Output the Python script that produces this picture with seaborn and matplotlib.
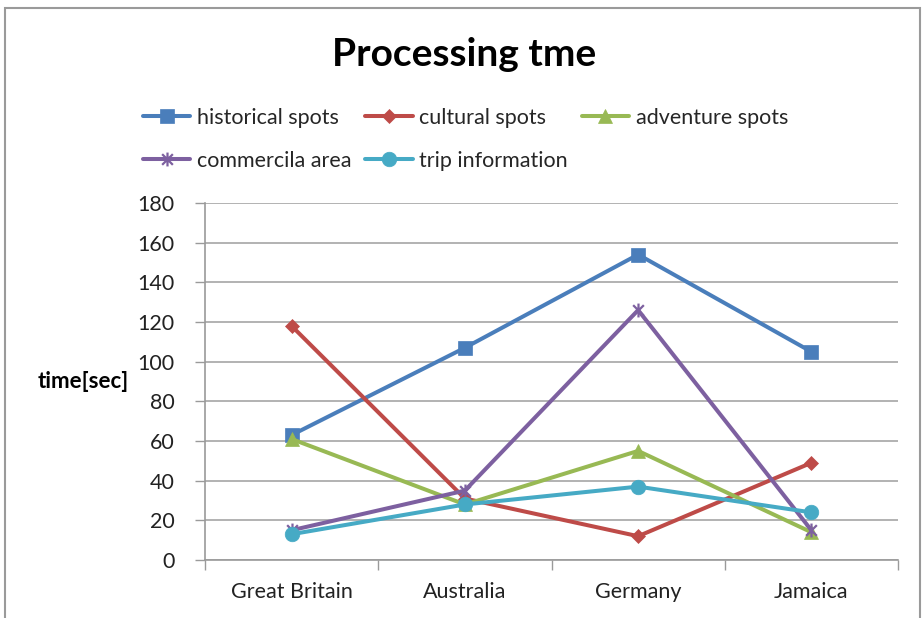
import numpy as np
import pandas as pd
import matplotlib
matplotlib.use("Agg")
import matplotlib.pyplot as plt
from matplotlib.path import Path
from matplotlib.patches import Rectangle
import seaborn as sns

categories = ["Great Britain", "Australia", "Germany", "Jamaica"]
historical = [63, 107, 154, 105]
cultural = [118, 31, 12, 49]
adventure = [61, 28, 55, 14]
commercial = [15, 35, 126, 15]
trip = [13, 28, 37, 24]
series_names = ["historical spots", "cultural spots", "adventure spots",
                "commercila area", "trip information"]
yticks = [0, 20, 40, 60, 80, 100, 120, 140, 160, 180]

colors = ["#4A7EBB", "#BE4B48", "#98B954", "#7D60A0", "#46AAC5"]
asterisk = Path([(-1, -1), (1, 1), (-1, 1), (1, -1), (0, -1.3), (0, 1.3)],
                [Path.MOVETO, Path.LINETO, Path.MOVETO, Path.LINETO, Path.MOVETO, Path.LINETO])
markers = ["s", "D", "^", asterisk, "o"]
msizes = [10.5, 7.5, 10.5, 10, 10.5]

rows = []
for name, vals in zip(series_names, [historical, cultural, adventure, commercial, trip]):
    for i, (c, v) in enumerate(zip(categories, vals)):
        rows.append({"series": name, "pos": i, "country": c, "value": v})
df = pd.DataFrame(rows)

sns.set_theme(style="white")
plt.rcParams["font.family"] = ["Lato", "DejaVu Sans"]

fig = plt.figure(figsize=(9.23, 6.18), dpi=100)
ax = fig.add_axes([205 / 923, 58 / 618, 693 / 923, 357 / 618])

handles = []
for name, col, mk, ms in zip(series_names, colors, markers, msizes):
    sub = df[df["series"] == name]
    sns.lineplot(data=sub, x="pos", y="value", ax=ax, color=col, linewidth=2.9,
                 marker=mk, markersize=ms, markeredgecolor=col,
                 markeredgewidth=1.6 if mk is asterisk else 0.5, label=name, legend=False)
    handles.append(ax.lines[-1])

ax.set_xlim(-0.5, 3.5)
ax.set_ylim(0, 180)
ax.set_yticks(yticks)
ax.set_yticklabels([str(t) for t in yticks], fontsize=15.5, color="#222222")
ax.set_xticks(range(len(categories)))
ax.set_xticklabels(categories, fontsize=15.5, color="#222222")
ax.set_xticks([-0.5, 0.5, 1.5, 2.5, 3.5], minor=True)
ax.tick_params(axis="x", which="major", length=0, pad=16)
ax.tick_params(axis="x", which="minor", length=7, width=1, color="#9A9A9A", direction="out", bottom=True)
ax.tick_params(axis="y", which="major", length=7, width=1, color="#9A9A9A", direction="out", left=True, pad=15)
ax.set_xlabel("")
ax.set_ylabel("")
ax.grid(axis="y", color="#A6A6A6", linewidth=1.2)
ax.grid(axis="x", visible=False)
ax.set_axisbelow(True)
for s in ["top", "right"]:
    ax.spines[s].set_visible(False)
for s in ["left", "bottom"]:
    ax.spines[s].set_color("#9A9A9A")
    ax.spines[s].set_linewidth(1.2)

order = [0, 3, 1, 4, 2]
leg = fig.legend([handles[i] for i in order], [series_names[i] for i in order],
                 ncol=3, loc="upper left", bbox_to_anchor=(143 / 923, 1 - 108 / 618),
                 frameon=False, fontsize=15.5, handlelength=2.2, handletextpad=0.3,
                 columnspacing=0.65, labelspacing=1.05, borderaxespad=0, borderpad=0)

fig.text(0.503, 1 - 55 / 618, "Processing tme", ha="center", va="center",
         fontsize=28, fontweight="bold", color="black")
fig.text(83 / 923, 1 - 382 / 618, "time[sec]", ha="center", va="center",
         fontsize=16, fontweight="bold", color="black")

fig.patches.append(Rectangle((5 / 923, -0.1), 915 / 923, 1.1 - 8 / 618,
                             transform=fig.transFigure, fill=False,
                             edgecolor="#9A9A9A", linewidth=1.5))

fig.savefig("out.png", dpi=100, facecolor="white")
